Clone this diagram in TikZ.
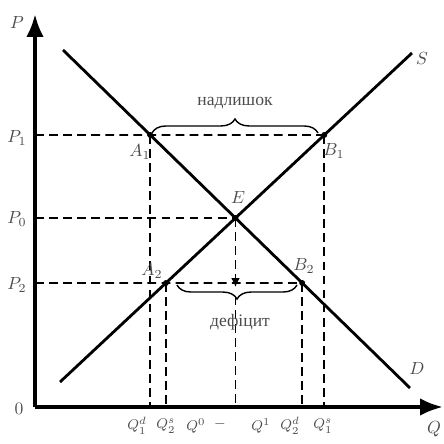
\documentclass[tikz,border=0pt]{standalone}
\usepackage{fontspec}
\setmainfont{Liberation Serif}
\usetikzlibrary{arrows.meta,decorations.pathreplacing}

\begin{document}
\begin{tikzpicture}[x=0.02cm,y=-0.02cm,
  curve/.style={line width=1.6pt},
  guide/.style={line width=0.9pt,dash pattern=on 5pt off 3pt},
  lbl/.style={text=black!70},
  qlbl/.style={text=black!70,inner sep=0pt,font=\footnotesize},
  pt/.style={circle,fill,inner sep=1.2pt}]
  \useasboundingbox (0,0) rectangle (444,444);
  % points of the graph
  \coordinate (O) at (35,407);
  \coordinate (Ptop) at (35,14);
  \coordinate (Qend) at (443,407);
  \coordinate (D1) at (63,50);
  \coordinate (D2) at (410,388);
  \coordinate (S1) at (60,382);
  \coordinate (S2) at (412,53);
  \coordinate (P1) at (35,135);
  \coordinate (P1r) at (440,135);
  \coordinate (P2) at (35,283);
  \coordinate (P2r) at (440,283);
  \coordinate (E) at (intersection of D1--D2 and S1--S2);
  \coordinate (A1) at (intersection of D1--D2 and P1--P1r);
  \coordinate (B1) at (intersection of S1--S2 and P1--P1r);
  \coordinate (A2) at (intersection of S1--S2 and P2--P2r);
  \coordinate (B2) at (intersection of D1--D2 and P2--P2r);
  % dashed guides
  \draw[guide] (P1) -- (B1);
  \draw[guide] (O |- E) -- (E);
  \draw[guide] (P2) -- (B2);
  \draw[guide] (A1) -- (A1 |- O);
  \draw[guide] (A2) -- (A2 |- O);
  \draw[guide] (B2) -- (B2 |- O);
  \draw[guide] (B1) -- (B1 |- O);
  \draw[guide,-{Latex[length=5pt,width=5pt]}] (E) -- (E |- 0,287);
  \draw[guide] (E |- 0,296) -- (E |- O);
  % axes
  \draw[line width=2.2pt,-{Latex[length=13pt,width=10pt]}] (O) -- (Ptop);
  \draw[line width=2.2pt,-{Latex[length=13pt,width=10pt]}] (O) -- (Qend);
  % demand and supply
  \draw[curve] (D1) -- (D2);
  \draw[curve] (S1) -- (S2);
  \foreach \p in {E,A1,B1,A2,B2} \node[pt] at (\p) {};
  % braces
  \draw[thick,decorate,decoration={brace,amplitude=8pt}] (152,133) -- (318,133);
  \draw[thick,decorate,decoration={brace,mirror,amplitude=8pt}] (177,285) -- (297,285);
  % labels
  \node[lbl] (lP) at (17,22) {$P$};
  \node[lbl] (lP1) at (17,138) {$P_1$};
  \node[lbl] (lP0) at (17,219) {$P_0$};
  \node[lbl] (lP2) at (17,285) {$P_2$};
  \node[lbl] (l0) at (19,409) {$0$};
  \node[lbl] (lQ) at (434,429) {$Q$};
  \node[lbl] (lS) at (422,58) {$S$};
  \node[lbl] (lD) at (417,368) {$D$};
  \node[lbl] (lE) at (238,197) {$E$};
  \node[lbl] (lA1) at (140,152) {$A_1$};
  \node[lbl] (lB1) at (334,151) {$B_1$};
  \node[lbl] (lA2) at (152,271) {$A_2$};
  \node[lbl] (lB2) at (304,266) {$B_2$};
  \node[lbl] (surplus) at (235,103) {надлишок};
  \node[lbl] (deficit) at (240,322) {дефіцит};
  \node[qlbl] (q1) at (137,426) {$Q^d_1$};
  \node[qlbl] (q2) at (166,426) {$Q^s_2$};
  \node[qlbl] (q3) at (196,426) {$Q^0$};
  \node[qlbl] (qm) at (220,424) {$-$};
  \node[qlbl] (q4) at (261,426) {$Q^1$};
  \node[qlbl] (q5) at (290,426) {$Q^d_2$};
  \node[qlbl] (q6) at (323,426) {$Q^s_1$};
\end{tikzpicture}
\end{document}
